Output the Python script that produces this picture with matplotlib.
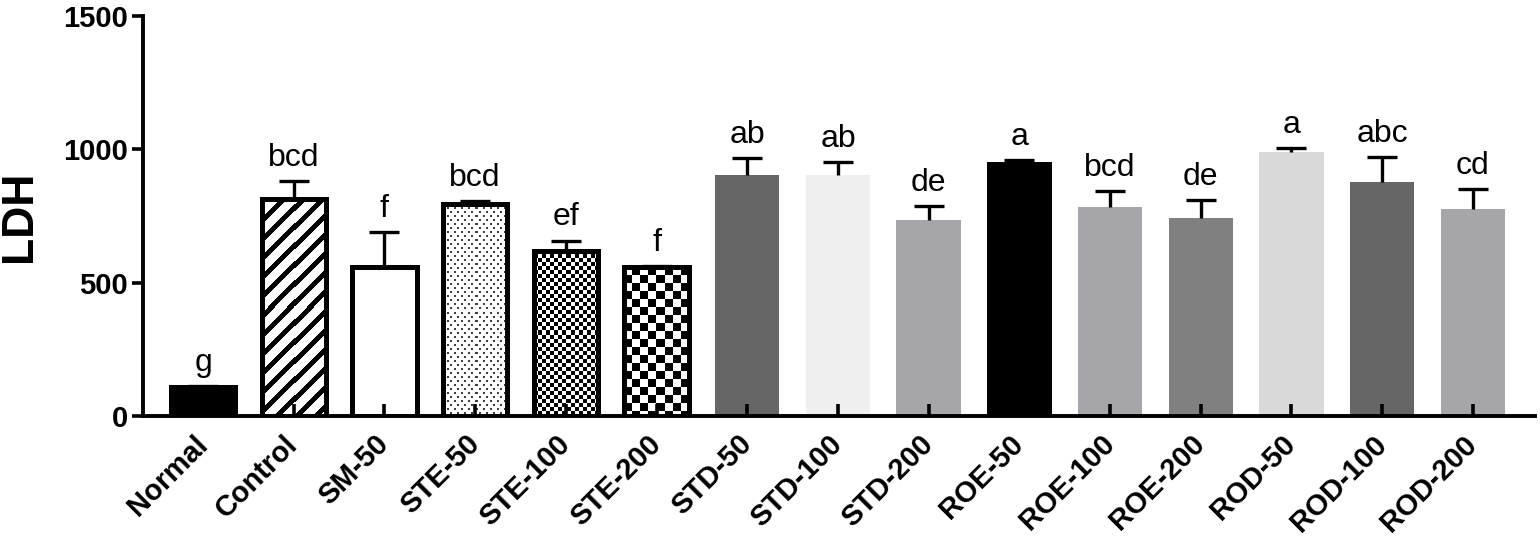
# LDH bar chart (Prism style) with patterned bars
import numpy as np
import matplotlib.pyplot as plt

plt.rcParams['font.family'] = ['Liberation Sans', 'DejaVu Sans']

# data
groups = ['Normal', 'Control', 'SM-50', 'STE-50', 'STE-100', 'STE-200',
          'STD-50', 'STD-100', 'STD-200', 'ROE-50', 'ROE-100', 'ROE-200',
          'ROD-50', 'ROD-100', 'ROD-200']
ldh = [108, 815, 558, 795, 620, 558, 904, 905, 735, 952, 784, 742, 990, 877, 776]
sem = [5, 65, 132, 12, 38, 5, 63, 48, 52, 8, 60, 68, 15, 94, 75]
letters = ['g', 'bcd', 'f', 'bcd', 'ef', 'f', 'ab', 'ab', 'de', 'a',
           'bcd', 'de', 'a', 'abc', 'cd']

# style per bar
fills = ['black', 'white', 'white', 'white', 'white', 'white',
         '#666666', '#efefef', '#a6a6aa', 'black', '#a6a6aa', '#808080',
         '#d9d9d9', '#666666', '#a6a6aa']
patterns = [None, 'stripe', None, 'dots', 'fine', 'coarse'] + [None] * 9
outlined = [True] * 6 + [False] * 9


def make_pattern(kind, w, h):
    # pattern drawn at screen pixel size, 1 = black
    r, c = np.mgrid[0:h, 0:w]
    if kind == 'stripe':
        return ((r + c) % 19 < 7).astype(float)
    if kind == 'dots':
        d = ((r % 8 < 2) & (c % 7 < 2)) | (((r + 4) % 8 < 2) & ((c + 3) % 7 < 2))
        return d * 0.75
    if kind == 'fine':
        return ((r // 4 + c // 4) % 2).astype(float)
    if kind == 'coarse':
        return ((r // 8 + c // 8) % 2).astype(float)
    return np.zeros((h, w))


fig = plt.figure(figsize=(15.4, 5.37), dpi=100)
ax = fig.add_subplot(111)
fig.subplots_adjust(left=0.093, right=0.997, bottom=0.225, top=0.970)

x = np.arange(len(groups))
ax.set_xlim(-0.66, 14.69)
ax.set_ylim(0, 1500)

bars = ax.bar(x, ldh, width=0.71, color=fills, linewidth=0, zorder=1)
for b, kind, out in zip(bars, patterns, outlined):
    if kind is not None:
        x0, w, h = b.get_x(), b.get_width(), b.get_height()
        p0 = ax.transData.transform((x0, 0))
        p1 = ax.transData.transform((x0 + w, h))
        wpx = int(round(p1[0] - p0[0]))
        hpx = int(round(p1[1] - p0[1]))
        img = ax.imshow(make_pattern(kind, wpx, hpx), cmap='gray_r', vmin=0, vmax=1,
                        extent=(x0, x0 + w, 0, h), aspect='auto',
                        interpolation='nearest', zorder=1.2)
        img.set_clip_path(b)
    if out:
        ax.bar(b.get_x() + b.get_width() / 2, b.get_height(), width=b.get_width(),
               fill=False, edgecolor='black', linewidth=3.6, zorder=1.5)

# only the upper error bar is drawn
eb = ax.errorbar(x, ldh, yerr=[np.zeros(len(sem)), sem], fmt='none', ecolor='black',
                 elinewidth=2.4, capsize=11, capthick=2.4, zorder=3)
eb[1][0].set_visible(False)

for xi, v, e, t in zip(x, ldh, sem, letters):
    ax.annotate(t, (xi, v + e), xytext=(0, 6), textcoords='offset points',
                ha='center', va='bottom', fontsize=23)

ax.set_yticks([0, 500, 1000, 1500])
ax.set_xticks(x)
ax.set_xticklabels(groups, rotation=45, ha='right', va='center',
                   rotation_mode='anchor', fontweight='bold', fontsize=21)
for lab in ax.get_yticklabels():
    lab.set_fontweight('bold')
ax.tick_params(axis='y', direction='out', length=8, width=2.6, labelsize=21, pad=3)
ax.tick_params(axis='x', direction='in', length=9, width=2.6, pad=17)

ax.set_ylabel('LDH', fontsize=32, fontweight='bold')
ax.yaxis.set_label_coords(-0.074, 0.5)

for s in ['top', 'right']:
    ax.spines[s].set_visible(False)
for s in ['left', 'bottom']:
    ax.spines[s].set_linewidth(2.8)

fig.savefig('out.png', dpi=100)
